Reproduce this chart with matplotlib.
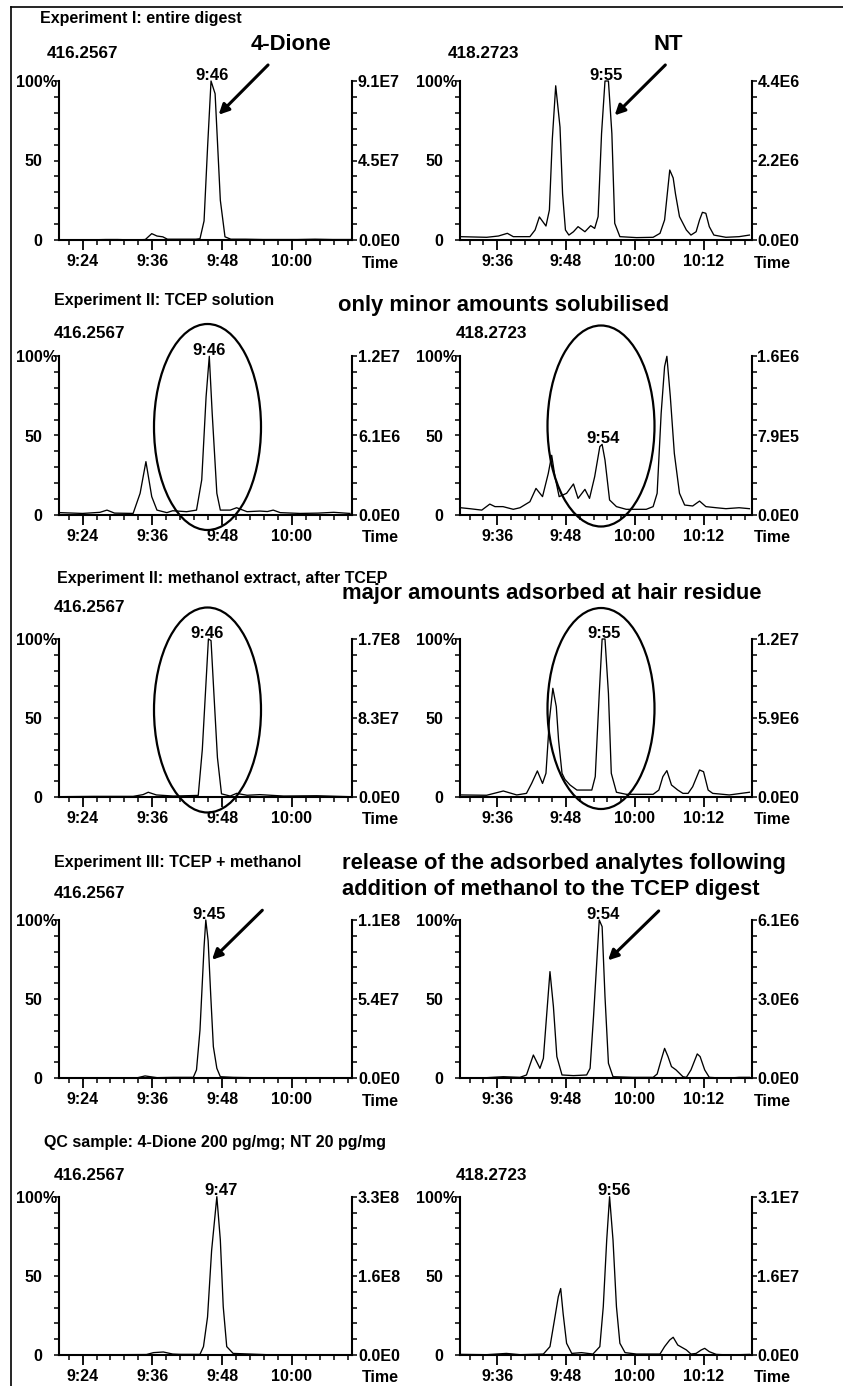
import matplotlib.pyplot as plt
from matplotlib.patches import Ellipse, FancyArrowPatch
from matplotlib.lines import Line2D
from matplotlib.ticker import MultipleLocator, FuncFormatter

plt.rcParams['font.family'] = ['Liberation Sans', 'DejaVu Sans']
plt.rcParams['font.weight'] = 'bold'

# retention time in seconds after 9:00, intensity in % of the panel's full scale
# 4-Dione trace (m/z 416.2567)
dione_exp1_t = [20, 24, 28, 30, 33, 34.8, 35.9, 36.8, 37.8, 38.6, 40.5, 42, 43.5, 44.2, 44.9, 45.5,
                46.1, 46.8, 47.7, 48.5, 49.5, 52, 55, 58, 61, 64, 67, 70.4]
dione_exp1_y = [0, 0, 0.3, 0.3, 0, 0.3, 4, 2.5, 2, 0.5, 0.5, 0.5, 0.5, 0.8, 12, 58,
                100, 92, 25, 2, 0.5, 0.5, 0.3, 0.3, 0.3, 0.5, 0.3, 0.3]

dione_tcep_t = [20.1, 24, 27, 28.2, 29.5, 32.7, 33.9, 34.9, 35.9, 36.8, 38.5, 39.5, 41.9, 43.6, 44.5,
                45.25, 45.8, 46.3, 47.1, 47.7, 49.4, 50.5, 52.3, 54.5, 55.8, 56.8, 58.0, 61.4, 64.5,
                67.2, 70.0]
dione_tcep_y = [1.3, 0.8, 1.5, 2.9, 1.0, 0.8, 13.5, 33.5, 11.4, 2.9, 1.3, 2.5, 1.9, 2.9, 22,
                74.5, 100, 64, 13.5, 2.9, 2.9, 4.4, 1.9, 2.3, 2.0, 2.9, 1.3, 0.8, 1.0,
                1.5, 0.8]

dione_meoh_t = [20.1, 26, 32.7, 34.4, 35.3, 36.7, 39.6, 43.9, 44.6, 45.2, 45.65, 46.1, 46.6, 47.2,
                47.9, 49.4, 50.5, 52.3, 54.5, 58.6, 64.3, 70.0]
dione_meoh_y = [0.2, 0.4, 0.4, 1.5, 3.0, 1.3, 0.6, 1, 30, 70, 100, 99, 65, 25,
                2, 0.6, 2.3, 1.1, 1.5, 0.6, 0.8, 0.2]

dione_exp3_t = [20, 30, 33.5, 34.75, 36.8, 39.6, 43.05, 43.6, 44.2, 44.9, 45.2, 45.6, 46.06, 46.5,
                47.1, 47.7, 49.9, 55.7, 70.0]
dione_exp3_y = [0, 0.2, 0.4, 1.5, 0.4, 0.6, 0.6, 5.3, 30.5, 83, 100, 87, 51.6, 20,
                6.3, 1, 0.6, 0.2, 0]

dione_qc_t = [20, 30, 35, 36.2, 37.9, 39.5, 40.8, 44.2, 44.8, 45.5, 46.2, 47.1, 47.7, 48.2, 48.8,
              49.9, 55.7, 70.0]
dione_qc_y = [0, 0.2, 0.3, 1.5, 1.9, 0.6, 0.4, 0.4, 5.3, 24, 66, 100, 72.6, 30.5, 5.3,
              1, 0.2, 0]

# NT trace (m/z 418.2723)
nt_exp1_t = [29.5, 34.15, 36.2, 37.76, 38.8, 41.7, 42.6, 43.35, 44.5, 45.1, 45.6, 46.2, 46.95, 47.4,
             47.9, 48.5, 49.3, 50.1, 51.3, 52.3, 53.0, 53.6, 54.2, 54.8, 55.4, 56.0, 56.5, 57.4,
             60.3, 63.2, 64.4, 65.2, 66.1, 66.7, 67.1, 67.8, 69.0, 69.8, 70.7, 71.3, 71.8, 72.4,
             73.0, 73.8, 75.9, 78.2, 80.0]
nt_exp1_y = [2.1, 1.7, 2.5, 4.2, 2.1, 2.1, 6.3, 14.5, 8.8, 18.9, 63, 97, 71, 29,
             6.3, 3.1, 5.2, 8.4, 5.2, 9, 7.3, 14.7, 67, 100, 100, 67, 10.5, 2.1,
             1.5, 1.7, 4.2, 12.6, 44, 39, 29, 14.7, 6.3, 3.1, 5.2, 12.6, 17.4, 16.8,
             8.4, 3.1, 1.7, 2.1, 3.1]

nt_tcep_t = [29.6, 31.2, 33.3, 34.7, 35.6, 37.0, 38.8, 39.97, 41.7, 42.76, 43.9, 44.9, 45.5, 46.07,
             46.8, 48.1, 49.3, 50.1, 51.3, 52.1, 53.0, 53.9, 54.3, 54.8, 55.6, 56.8, 58.5, 62.0,
             63.2, 63.9, 64.6, 65.2, 65.6, 66.2, 66.9, 67.8, 68.7, 70.1, 71.3, 72.4, 74.2, 75.9,
             78.2, 80.0]
nt_tcep_y = [4.4, 3.8, 2.9, 6.7, 5.1, 5.1, 3.4, 4.4, 8.2, 16.6, 11.4, 26, 37.5, 24,
             11.4, 13.5, 19.4, 10.3, 16, 10.3, 24, 43, 44.4, 34.5, 9.3, 5.1, 3.4, 3.4,
             5.1, 13.5, 64, 93.5, 100, 74.5, 38.7, 13.5, 6.1, 5.5, 8.6, 5.1, 4.4, 3.8,
             4.4, 3.8]

nt_meoh_t = [29.6, 34.15, 37.06, 39.4, 41.1, 42.0, 43.0, 43.9, 44.5, 45.1, 45.7, 46.3, 46.7, 47.3,
             47.8, 48.7, 49.9, 52.5, 53.1, 53.8, 54.3, 54.8, 55.4, 55.9, 56.8, 58.5, 63.2, 64.2,
             64.9, 65.6, 66.4, 67.5, 68.4, 69.3, 70.1, 71.3, 72.0, 72.8, 73.6, 76.5, 80.0]
nt_meoh_y = [1.3, 1.1, 3.8, 1.3, 2.3, 8.6, 16.5, 8.6, 15, 48.7, 68.8, 57.2, 36, 15,
             11.2, 7.6, 4.4, 4.4, 12.9, 65.6, 100, 100, 65.6, 15, 3, 1.7, 1.7, 4.4,
             12.9, 16.7, 7.6, 4.4, 2.3, 2.3, 6.5, 17.1, 16, 4.4, 2.3, 1.3, 3]

nt_exp3_t = [29.6, 34.15, 37.06, 39.97, 41.1, 42.3, 43.45, 44.05, 44.6, 45.2, 45.8, 46.4, 47.3, 49.3,
             51.6, 52.2, 52.8, 53.8, 54.3, 54.8, 55.4, 56.2, 59.7, 63.2, 63.9, 64.6, 65.2, 65.8,
             66.4, 67.2, 68.4, 69.0, 69.8, 70.9, 71.4, 72.2, 73.0, 75.9, 78.2, 80.0]
nt_exp3_y = [0.4, 0.4, 1, 0.6, 2.1, 14.7, 6.3, 12.6, 39, 67.4, 45.3, 13.7, 2.1, 1.7,
             2.1, 6.3, 39, 100, 95.8, 51.6, 9.5, 1, 0.6, 0.6, 2.7, 11.6, 18.9, 13.7,
             7.4, 5.3, 1, 0.6, 5.3, 15.4, 13.7, 5.3, 0.6, 0, 0.6, 0.6]

nt_qc_t = [29.6, 34.15, 37.6, 39.97, 44.05, 45.2, 46.07, 46.65, 47.07, 47.5, 48.1, 49.0, 50.7, 52.7,
           53.9, 54.5, 55.1, 55.6, 56.2, 56.8, 57.4, 58.3, 60.3, 64.4, 65.2, 66.1, 66.7, 67.5,
           69.0, 69.8, 70.7, 71.6, 72.2, 73.0, 74.2, 76.5, 80.0]
nt_qc_y = [0.4, 0.2, 1, 0.2, 0.6, 5.3, 24, 36.8, 42, 26, 7.4, 1, 1.5, 0.6,
           5.3, 30.5, 72.6, 100, 72.6, 30.5, 7.4, 1.5, 0.6, 0.6, 5.3, 9.5, 11.2, 6.3,
           3.2, 0.6, 1, 3.2, 4.2, 2.1, 0.4, 0, 0.4]

# full-scale / half-scale intensity labels (right axes)
dione_full_scale = ['9.1E7', '1.2E7', '1.7E8', '1.1E8', '3.3E8']
dione_half_scale = ['4.5E7', '6.1E6', '8.3E7', '5.4E7', '1.6E8']
nt_full_scale = ['4.4E6', '1.6E6', '1.2E7', '6.1E6', '3.1E7']
nt_half_scale = ['2.2E6', '7.9E5', '5.9E6', '3.0E6', '1.6E7']

# apex labels: text, time, % position
dione_peak_text = ['9:46', '9:46', '9:46', '9:45', '9:47']
dione_peak_t = [46.3, 45.8, 45.5, 45.8, 47.8]
nt_peak_text = ['9:55', '9:54', '9:55', '9:54', '9:56']
nt_peak_t = [55.0, 54.4, 54.6, 54.5, 56.3]
nt_peak_y = [100, 44.4, 100, 100, 100]

section_titles = ['Experiment I: entire digest', 'Experiment II: TCEP solution',
                  'Experiment II: methanol extract, after TCEP', 'Experiment III: TCEP + methanol',
                  'QC sample: 4-Dione 200 pg/mg; NT 20 pg/mg']
dione_mass = '416.2567'
nt_mass = '418.2723'
show_nt_mass = [True, True, False, False, True]

W, H = 843, 1386


def fx(px):
    return px / W


def fy(py):
    return 1 - py / H


def time_label(s, pos=None):
    m, sec = divmod(int(round(s)), 60)
    return f"{9 + m}:{sec:02d}"


row_top = [81, 356.3, 639, 920, 1196.7]
row_bot = [240, 514.7, 797, 1078.3, 1355]
col_left = [59.3, 460]
col_right = [352.3, 751.7]
xlims = [(20, 70.4), (29.5, 80.4)]
time_dx = [10, 2]

fig = plt.figure(figsize=(W / 100, H / 100), dpi=100)

dione = [(dione_exp1_t, dione_exp1_y), (dione_tcep_t, dione_tcep_y), (dione_meoh_t, dione_meoh_y),
         (dione_exp3_t, dione_exp3_y), (dione_qc_t, dione_qc_y)]
nt = [(nt_exp1_t, nt_exp1_y), (nt_tcep_t, nt_tcep_y), (nt_meoh_t, nt_meoh_y),
      (nt_exp3_t, nt_exp3_y), (nt_qc_t, nt_qc_y)]


def draw_panel(row, col, t, y, full, half, ptext, pt, py):
    ax = fig.add_axes([fx(col_left[col]), fy(row_bot[row]),
                       (col_right[col] - col_left[col]) / W, (row_bot[row] - row_top[row]) / H])
    ax.plot(t, y, color='black', lw=0.95, clip_on=False)
    ax.set_xlim(*xlims[col])
    ax.set_ylim(0, 100)
    for s in ['top', 'right']:
        ax.spines[s].set_visible(False)
    for s in ['left', 'bottom']:
        ax.spines[s].set_linewidth(1.5)
    ax.xaxis.set_major_locator(MultipleLocator(12))
    ax.xaxis.set_minor_locator(MultipleLocator(2.4))
    ax.xaxis.set_major_formatter(FuncFormatter(time_label))
    ax.tick_params(axis='x', which='major', direction='out', length=7.2, width=1.3,
                   pad=2.8, labelsize=11.5)
    ax.tick_params(axis='x', which='minor', direction='out', length=3.6, width=1.1)
    ax.set_yticks([0, 50, 100])
    ax.set_yticklabels(['0', '50', '100'])
    ax.yaxis.set_minor_locator(MultipleLocator(10))
    ax.tick_params(axis='y', which='both', direction='out', length=3.6, width=1.1,
                   pad=8.6, labelsize=11.5)
    ax.annotate('%', xy=(0, 100), xycoords=('axes fraction', 'data'), xytext=(-17 * 0.72, 0),
                textcoords='offset points', ha='left', va='center_baseline', fontsize=11.5)
    ax.annotate('Time', xy=(1, 0), xycoords='axes fraction', xytext=(time_dx[col] * 0.72, -23 * 0.72),
                textcoords='offset points', ha='left', va='center', fontsize=11.5)
    ax.annotate(ptext, xy=(pt, py), xytext=(0, 1), textcoords='offset points',
                ha='center', va='baseline', fontsize=12)

    ax2 = ax.twinx()
    ax2.set_ylim(0, 100)
    for s in ['top', 'left', 'bottom']:
        ax2.spines[s].set_visible(False)
    ax2.spines['right'].set_linewidth(1.5)
    ax2.set_yticks([0, 50, 100])
    ax2.set_yticklabels(['0.0E0', half, full])
    ax2.yaxis.set_minor_locator(MultipleLocator(10))
    ax2.tick_params(axis='y', which='both', direction='out', length=3.6, width=1.1,
                    pad=0.5, labelsize=11.5)
    return ax


for r in range(5):
    draw_panel(r, 0, dione[r][0], dione[r][1], dione_full_scale[r], dione_half_scale[r],
               dione_peak_text[r], dione_peak_t[r], 100)
    draw_panel(r, 1, nt[r][0], nt[r][1], nt_full_scale[r], nt_half_scale[r],
               nt_peak_text[r], nt_peak_t[r], nt_peak_y[r])

# section titles and mass labels
title_pos = [(40, 18), (54, 300), (57, 579), (54, 862), (44, 1142)]
mass_y = [53, 333, 608, 893, 1175]
for r in range(5):
    fig.text(fx(title_pos[r][0]), fy(title_pos[r][1]), section_titles[r], fontsize=11.5,
             ha='left', va='center')
    fig.text(fx(47 if r == 0 else 54), fy(mass_y[r]), dione_mass, fontsize=12.3, ha='left', va='center')
    if show_nt_mass[r]:
        fig.text(fx(448 if r == 0 else 456), fy(mass_y[r]), nt_mass, fontsize=12.3, ha='left', va='center')

# comments on the right column
fig.text(fx(291), fy(45), '4-Dione', fontsize=15.8, ha='center', va='center')
fig.text(fx(668), fy(45), 'NT', fontsize=15.8, ha='center', va='center')
fig.text(fx(338), fy(305), 'only minor amounts solubilised', fontsize=15.8, ha='left', va='center')
fig.text(fx(342), fy(593), 'major amounts adsorbed at hair residue', fontsize=15.8, ha='left', va='center')
fig.text(fx(342), fy(863), 'release of the adsorbed analytes following', fontsize=15.8,
         ha='left', va='center')
fig.text(fx(342), fy(890), 'addition of methanol to the TCEP digest', fontsize=15.8,
         ha='left', va='center')

# arrows pointing at the analyte peaks
arrows = [((270, 63), (216.7, 116.7)), ((667.3, 63), (612.7, 117.3)),
          ((264.3, 908.3), (210, 961.7)), ((660.7, 909), (606, 962.3))]
for (x0, y0), (x1, y1) in arrows:
    fig.add_artist(FancyArrowPatch((fx(x0), fy(y0)), (fx(x1), fy(y1)), transform=fig.transFigure,
                                   arrowstyle='-|>', mutation_scale=15, lw=2.2, color='black'))

# ellipses around the analyte peaks
ellipses = [(207.5, 427, 107, 206), (601, 426, 107, 201), (207.5, 710, 107, 205), (601, 708.5, 107, 201)]
for cx, cy, w, h in ellipses:
    fig.add_artist(Ellipse((fx(cx), fy(cy)), w / W, h / H, transform=fig.transFigure,
                           fill=False, lw=1.6, color='black'))

# frame lines
fig.add_artist(Line2D([fx(10.5), fx(10.5)], [0, fy(7)], transform=fig.transFigure, color='black', lw=1.2))
fig.add_artist(Line2D([fx(10.5), 1], [fy(7), fy(7)], transform=fig.transFigure, color='black', lw=1.2))

fig.savefig('out.png', dpi=100)
